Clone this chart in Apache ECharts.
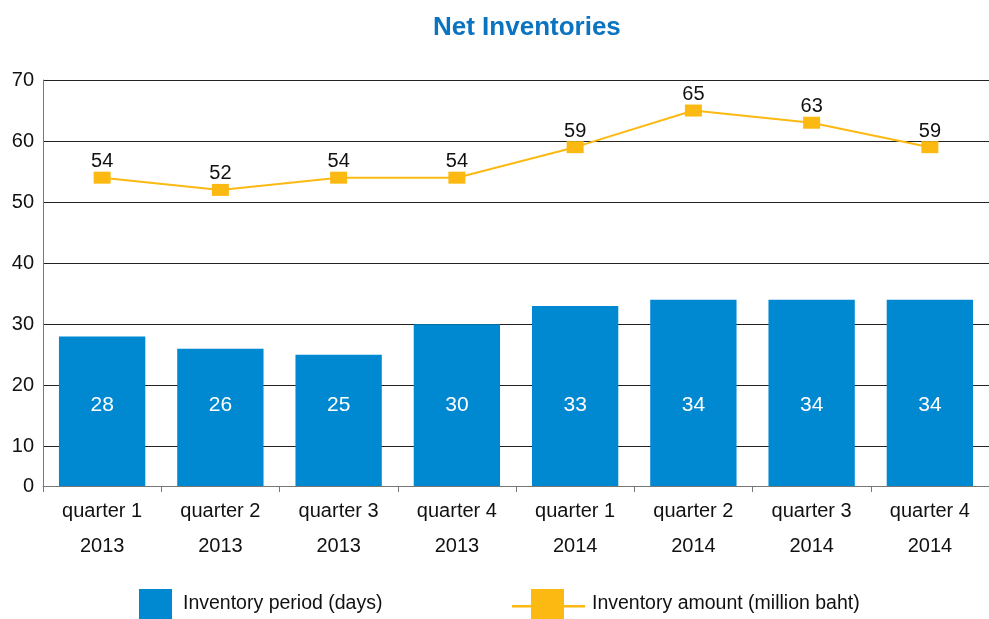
<!DOCTYPE html>
<html>
<head>
<meta charset="utf-8">
<script src="https://cdn.jsdelivr.net/npm/echarts@6/dist/echarts.min.js"></script>
<style>
  html, body { margin: 0; padding: 0; background: #fff; }
  #chart { width: 989px; height: 619px; }
</style>
</head>
<body>
<div id="chart"></div>
<script>
// data
const quarters = ['quarter 1\n2013', 'quarter 2\n2013', 'quarter 3\n2013', 'quarter 4\n2013',
                  'quarter 1\n2014', 'quarter 2\n2014', 'quarter 3\n2014', 'quarter 4\n2014'];
const periodDays = [28, 26, 25, 30, 33, 34, 34, 34];
const amountMillion = [54, 52, 54, 54, 59, 65, 63, 59];
// the bottom band of the axis is shorter than the others, labelled 0
const yBottom = 3.5;
const yTicks = [yBottom, 10, 20, 30, 40, 50, 60, 70];
const yTickLabels = ['0', '10', '20', '30', '40', '50', '60', '70'];

const font = 'Liberation Sans, Helvetica, Arial, sans-serif';
const blue = '#0088d1';
const yellow = '#fcb912';

const myChart = echarts.init(document.getElementById('chart'));
const option = {
    animation: false,
    textStyle: { fontFamily: font },
    title: {
        text: 'Net Inventories',
        left: 433,
        top: 15,
        padding: 0,
        textStyle: { color: '#0b74c0', fontSize: 26, fontWeight: 'bold', fontFamily: font }
    },
    legend: [{
        data: ['Inventory period (days)'],
        left: 139,
        top: 589,
        padding: 0,
        itemWidth: 33,
        itemHeight: 30,
        icon: 'rect',
        selectedMode: false,
        textStyle: { fontSize: 19.5, color: '#111', padding: [5, 0, 0, 6] }
    }, {
        data: [{
            name: 'Inventory amount (million baht)',
            // line through a square, cut at the bottom like the reference
            icon: 'path://M0,16 H73 V18.5 H0 Z M19,0 H52 V30 H19 Z'
        }],
        left: 512,
        top: 589,
        padding: 0,
        itemWidth: 73,
        itemHeight: 30,
        selectedMode: false,
        itemStyle: { color: yellow },
        textStyle: { fontSize: 19.5, color: '#111', padding: [5, 0, 0, 2] }
    }],
    grid: {
        left: 43,
        width: 946,
        top: 80,
        height: 406,
        containLabel: false,
        outerBoundsMode: 'none'
    },
    xAxis: {
        type: 'category',
        data: quarters,
        boundaryGap: true,
        axisLine: { lineStyle: { color: '#777', width: 1 } },
        axisTick: { show: true, length: 6, lineStyle: { color: '#777' } },
        axisLabel: {
            interval: 0,
            margin: 8,
            fontSize: 20,
            lineHeight: 35,
            color: '#111',
            fontFamily: font
        },
        splitLine: { show: false }
    },
    yAxis: {
        type: 'value',
        min: yBottom,
        max: 70,
        axisLine: { show: true, lineStyle: { color: '#777', width: 1 } },
        axisTick: { show: false, customValues: yTicks },
        axisLabel: {
            customValues: yTicks,
            margin: 9,
            fontSize: 20,
            color: '#111',
            fontFamily: font,
            formatter: (v) => yTickLabels[yTicks.indexOf(v)]
        },
        splitLine: { show: true, lineStyle: { color: '#222', width: 1 } }
    },
    series: [{
        name: 'Inventory period (days)',
        type: 'bar',
        barWidth: '73%',
        data: periodDays,
        itemStyle: { color: blue },
        label: {
            show: true,
            position: 'insideBottom',
            distance: 70,
            color: '#fff',
            fontSize: 21,
            fontFamily: font
        }
    }, {
        name: 'Inventory amount (million baht)',
        type: 'line',
        data: amountMillion,
        symbol: 'rect',
        symbolSize: [17, 12],
        itemStyle: { color: yellow },
        lineStyle: { color: yellow, width: 2 },
        label: {
            show: true,
            position: 'top',
            distance: 0,
            color: '#111',
            fontSize: 20,
            fontFamily: font
        }
    }]
};
myChart.setOption(option);
window.addEventListener('resize', myChart.resize);
</script>
</body>
</html>
